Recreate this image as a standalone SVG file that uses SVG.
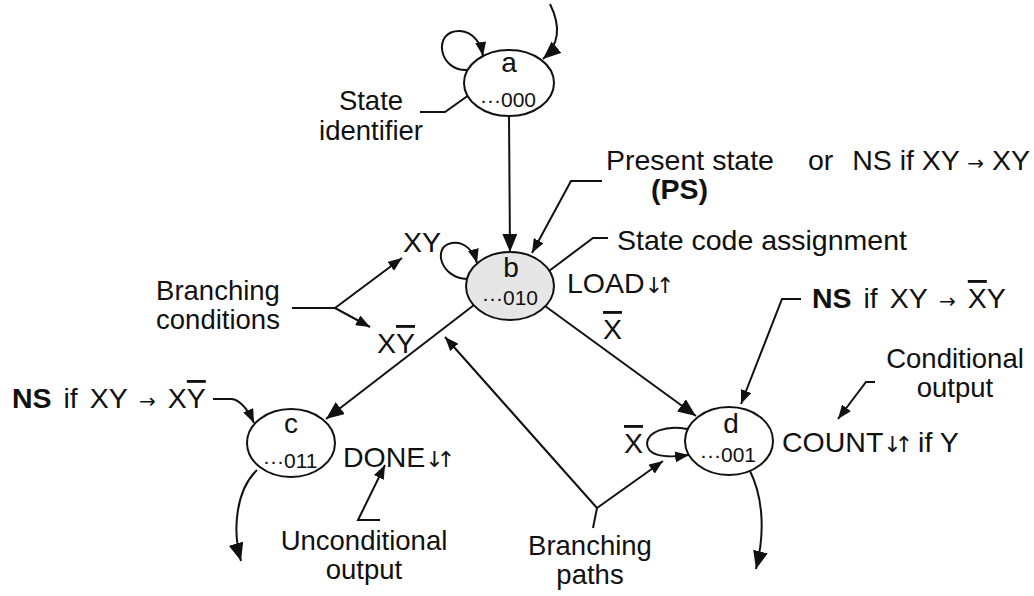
<svg xmlns="http://www.w3.org/2000/svg" width="1034" height="596" viewBox="0 0 1034 596">
<style>
.t{font-family:"Liberation Sans",Arial,sans-serif;font-size:28.5px;fill:#111}
.bd{font-weight:bold}
.code{font-size:21px}
.lbl{font-size:28px}
.two{font-size:27.5px}
.ov{text-decoration:overline}
.ws{word-spacing:4px}
.ar{font-family:"DejaVu Sans",sans-serif;font-size:22px;letter-spacing:-7px}
.ar2{font-family:"DejaVu Sans",sans-serif;font-size:22px;letter-spacing:-3px}
.sa{font-family:"DejaVu Sans",sans-serif;font-size:20px}
.ln{fill:none;stroke:#111;stroke-width:2}
.nd{stroke:#111;stroke-width:2;fill:#fff}
</style>
<defs>
<marker id="big" markerUnits="userSpaceOnUse" markerWidth="19" markerHeight="15" refX="18" refY="7.5" orient="auto"><path d="M0,0 L18,7.5 L0,15 z" fill="#111"/></marker>
<marker id="sm" markerUnits="userSpaceOnUse" markerWidth="15" markerHeight="11" refX="14" refY="5.5" orient="auto"><path d="M0,0 L14,5.5 L0,11 z" fill="#111"/></marker>
</defs>
<rect width="1034" height="596" fill="#fff"/>
<g id="connectors">
<path class="ln" d="M550 4 Q567 38 543 59" marker-end="url(#big)"/>
<path class="ln" d="M468 70 C438 72 432 30 460 31 C474 32 481 44 483 56" marker-end="url(#sm)"/>
<path class="ln" d="M509 116 L510 252" marker-end="url(#big)"/>
<path class="ln" d="M467 279 C440 278 432 246 452 243 C465 241 474 252 477 263" marker-end="url(#sm)"/>
<path class="ln" d="M474 305 L326 419" marker-end="url(#big)"/>
<path class="ln" d="M545 306 L696 416" marker-end="url(#big)"/>
<path class="ln" d="M687 429 C665 425 648 432 647 443 C647 454 660 459 689 455" marker-end="url(#sm)"/>
<path class="ln" d="M257 470 C236 490 232 530 241 561" marker-end="url(#big)"/>
<path class="ln" d="M750 471 C762 495 766 530 756 569" marker-end="url(#big)"/>
<path class="ln" d="M420 112 L445 112 L497 75" marker-end="url(#sm)"/>
<path class="ln" d="M602 181 L571 181 L532 253" marker-end="url(#sm)"/>
<path class="ln" d="M608 238 L593 238 L533 283" marker-end="url(#sm)"/>
<path class="ln" d="M292 308 L335 308 L402 258" marker-end="url(#sm)"/>
<path class="ln" d="M335 308 L370 327" marker-end="url(#sm)"/>
<path class="ln" d="M213 399 L232 399 Q244 401 254 423" marker-end="url(#sm)"/>
<path class="ln" d="M380 520 L358 520 L385 465" marker-end="url(#sm)"/>
<path class="ln" d="M593 528 L597 508"/>
<path class="ln" d="M597 508 L445 337" marker-end="url(#sm)"/>
<path class="ln" d="M597 508 L663 461" marker-end="url(#sm)"/>
<path class="ln" d="M801 299 L782 299 L741 404" marker-end="url(#sm)"/>
<path class="ln" d="M875 382 L866 382 L838 419" marker-end="url(#sm)"/>
</g>
<g id="state-a">
<ellipse class="nd" cx="509" cy="83" rx="45" ry="33"/>
<text class="t lbl" x="509" y="72" text-anchor="middle">a</text>
<text class="t code" x="480" y="107">···000</text>
</g>
<g id="state-b">
<ellipse class="nd" cx="510" cy="286" rx="44" ry="34" style="fill:#e6e6e6"/>
<text class="t lbl" x="511" y="277" text-anchor="middle">b</text>
<text class="t code" x="482" y="305">···010</text>
</g>
<g id="state-c">
<ellipse class="nd" cx="291" cy="443" rx="44" ry="34"/>
<text class="t lbl" x="291" y="433" text-anchor="middle">c</text>
<text class="t code" x="263" y="468">···011</text>
</g>
<g id="state-d">
<ellipse class="nd" cx="729" cy="441" rx="44" ry="34"/>
<text class="t lbl" x="731" y="433" text-anchor="middle">d</text>
<text class="t code" x="700" y="462">···001</text>
</g>
<g id="labels">
<text class="t two" x="371" y="110" text-anchor="middle">State</text>
<text class="t two" x="371" y="140" text-anchor="middle">identifier</text>
<text class="t" x="606" y="170">Present state</text>
<text class="t" x="808" y="170">or</text>
<text class="t" x="1030" y="170" text-anchor="end">NS if XY <tspan class="sa">→</tspan> XY</text>
<text class="t bd" x="651" y="199">(PS)</text>
<text class="t" x="403" y="252">XY</text>
<text class="t" x="617" y="250">State code assignment</text>
<text class="t" x="567" y="293">LOAD<tspan class="ar">↓</tspan><tspan class="ar2">↑</tspan></text>
<text class="t two" x="218" y="300" text-anchor="middle">Branching</text>
<text class="t two" x="218" y="329" text-anchor="middle">conditions</text>
<text class="t" x="377" y="353">X<tspan class="ov">Y</tspan></text>
<text class="t" x="603" y="339"><tspan class="ov">X</tspan></text>
<text class="t ws" x="812" y="308"><tspan class="bd">NS</tspan>  if XY <tspan class="sa">→</tspan> <tspan class="ov">X</tspan>Y</text>
<text class="t two" x="955" y="368" text-anchor="middle">Conditional</text>
<text class="t two" x="955" y="397" text-anchor="middle">output</text>
<text class="t" x="782" y="452">COUNT<tspan class="ar">↓</tspan><tspan class="ar2">↑</tspan> if Y</text>
<text class="t" x="624" y="453"><tspan class="ov">X</tspan></text>
<text class="t ws" x="12" y="408"><tspan class="bd">NS</tspan>  if XY <tspan class="sa">→</tspan> X<tspan class="ov">Y</tspan></text>
<text class="t" x="343" y="467">DONE<tspan class="ar">↓</tspan><tspan class="ar2">↑</tspan></text>
<text class="t two" x="364" y="550" text-anchor="middle">Unconditional</text>
<text class="t two" x="364" y="579" text-anchor="middle">output</text>
<text class="t two" x="590" y="555" text-anchor="middle">Branching</text>
<text class="t two" x="590" y="584" text-anchor="middle">paths</text>
</g>
</svg>
